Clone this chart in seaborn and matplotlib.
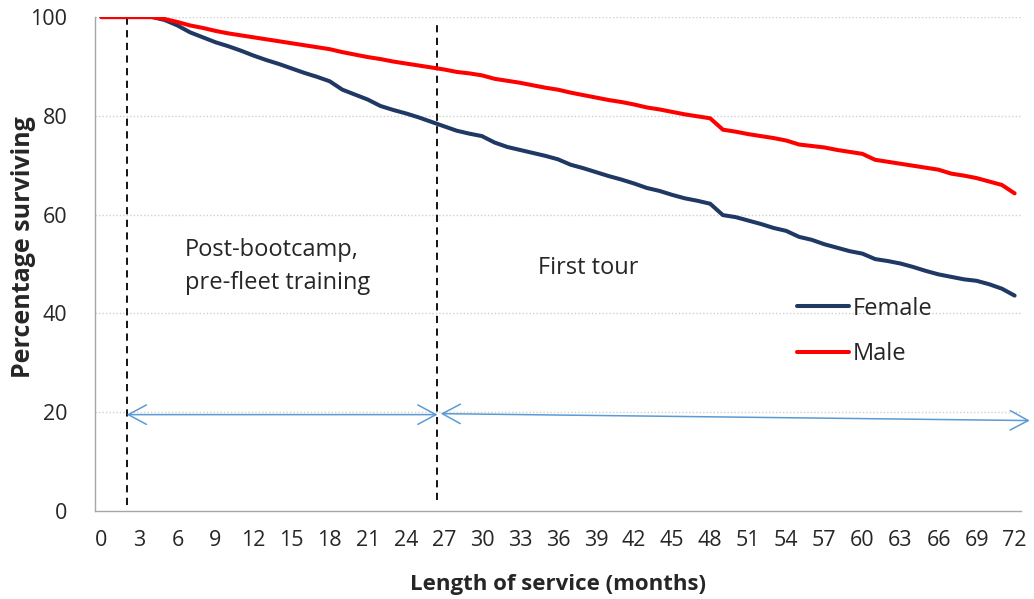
import numpy as np
import pandas as pd
import matplotlib
matplotlib.use("Agg")
import matplotlib.pyplot as plt
import seaborn as sns

# Survival curves (percent surviving, monthly)
months = list(range(0, 73))
female = [100, 100, 100, 100, 100, 99.4, 98.3, 96.9, 95.9, 94.9,
          94.1, 93.2, 92.2, 91.3, 90.5, 89.6, 88.7, 87.9, 87.0, 85.3,
          84.3, 83.3, 82.0, 81.2, 80.5, 79.7, 78.8, 77.9, 77.0, 76.4,
          75.9, 74.6, 73.7, 73.1, 72.5, 71.9, 71.2, 70.1, 69.4, 68.6,
          67.8, 67.1, 66.3, 65.4, 64.8, 64.0, 63.3, 62.8, 62.2, 59.9,
          59.5, 58.8, 58.1, 57.3, 56.7, 55.5, 54.9, 54.0, 53.3, 52.6,
          52.1, 51.0, 50.6, 50.1, 49.4, 48.6, 47.9, 47.4, 46.9, 46.6,
          45.9, 45.0, 43.6]
male = [100, 100, 100, 100, 100, 99.6, 99.0, 98.3, 97.8, 97.2,
        96.7, 96.3, 95.9, 95.5, 95.1, 94.7, 94.3, 93.9, 93.5, 92.9,
        92.4, 91.9, 91.5, 91.0, 90.6, 90.2, 89.8, 89.4, 88.9, 88.6,
        88.2, 87.5, 87.1, 86.7, 86.2, 85.7, 85.3, 84.7, 84.2, 83.7,
        83.2, 82.8, 82.3, 81.7, 81.3, 80.8, 80.3, 79.9, 79.5, 77.2,
        76.8, 76.3, 75.9, 75.5, 75.0, 74.2, 73.9, 73.6, 73.1, 72.7,
        72.3, 71.1, 70.7, 70.3, 69.9, 69.5, 69.1, 68.3, 67.9, 67.4,
        66.7, 66.0, 64.3]
groups = ["Female", "Male"]
colors = ["#1F3864", "#FF0000"]

# phase boundaries (months) and labels
bootcamp_end = 2
training_end = 26.5
tour_end = 73.2
phase_labels = ["Post-bootcamp,\npre-fleet training", "First tour"]

df = pd.DataFrame({
    "month": months * 2,
    "pct": female + male,
    "sex": ["Female"] * len(months) + ["Male"] * len(months),
})

sns.set_style("white")
plt.rcParams["font.family"] = ["Open Sans", "DejaVu Sans"]

fig = plt.figure(figsize=(10.34, 5.99), dpi=100)
ax = fig.add_axes([0.0919, 0.147, 0.8955, 0.8245])

# light dotted gridlines
for yv in [20, 40, 60, 80, 100]:
    ax.axhline(yv, color="#D0D0D0", lw=1, ls=(0, (1, 1.5)), zorder=0)

sns.lineplot(data=df, x="month", y="pct", hue="sex", hue_order=groups,
             palette=colors, linewidth=2.9, ax=ax, legend=False, zorder=3)

# phase separators
ax.plot([bootcamp_end, bootcamp_end], [1.2, 100.8], color="black", lw=1.3,
        ls=(0, (4, 3)), zorder=2, clip_on=False)
ax.plot([training_end, training_end], [2.2, 98.8], color="black", lw=1.3,
        ls=(0, (4, 3)), zorder=2, clip_on=False)

# phase arrows
arrow = dict(arrowstyle="<->,head_length=1.3,head_width=0.7",
             color="#5B9BD5", lw=1.1, shrinkA=0, shrinkB=0)
ax.annotate("", xy=(bootcamp_end, 19.5), xytext=(training_end, 19.5),
            arrowprops=arrow, annotation_clip=False)
ax.annotate("", xy=(training_end + 0.25, 19.7), xytext=(tour_end, 18.3),
            arrowprops=arrow, annotation_clip=False)

ax.text(6.6, 49.4, phase_labels[0], fontsize=17, ha="left", va="center",
        linespacing=1.5)
ax.text(34.4, 49.2, phase_labels[1], fontsize=17, ha="left", va="center")

# legend
handles = [plt.Line2D([], [], color=c, lw=2.9) for c in colors]
ax.legend(handles, groups, loc="upper left", bbox_to_anchor=(0.758, 0.434),
          frameon=False, fontsize=17, handlelength=2.2, handletextpad=0.15,
          labelspacing=0.9, borderpad=0, borderaxespad=0)

ax.set_xlim(-0.5, 72.5)
ax.set_ylim(0, 100)
ax.set_xticks(range(0, 73, 3))
ax.set_xticks(np.arange(-0.5, 73, 1), minor=True)
ax.set_yticks(range(0, 101, 20))
ax.tick_params(axis="x", which="major", length=0, pad=14, labelsize=15.5)
ax.tick_params(axis="x", which="minor", length=5, width=1, color="#A6A6A6",
               direction="out")
ax.tick_params(axis="y", length=9, width=1, color="#A6A6A6", pad=11,
               labelsize=15.5)

for side in ["top", "right"]:
    ax.spines[side].set_visible(False)
for side in ["left", "bottom"]:
    ax.spines[side].set_color("#A6A6A6")
    ax.spines[side].set_linewidth(1)

ax.set_xlabel("Length of service (months)", fontsize=16, fontweight="bold")
ax.set_ylabel("Percentage surviving", fontsize=18, fontweight="bold")
ax.xaxis.set_label_coords(0.5, -0.127)
ax.yaxis.set_label_coords(-0.064, 0.535)

fig.savefig("out.png", dpi=100)
